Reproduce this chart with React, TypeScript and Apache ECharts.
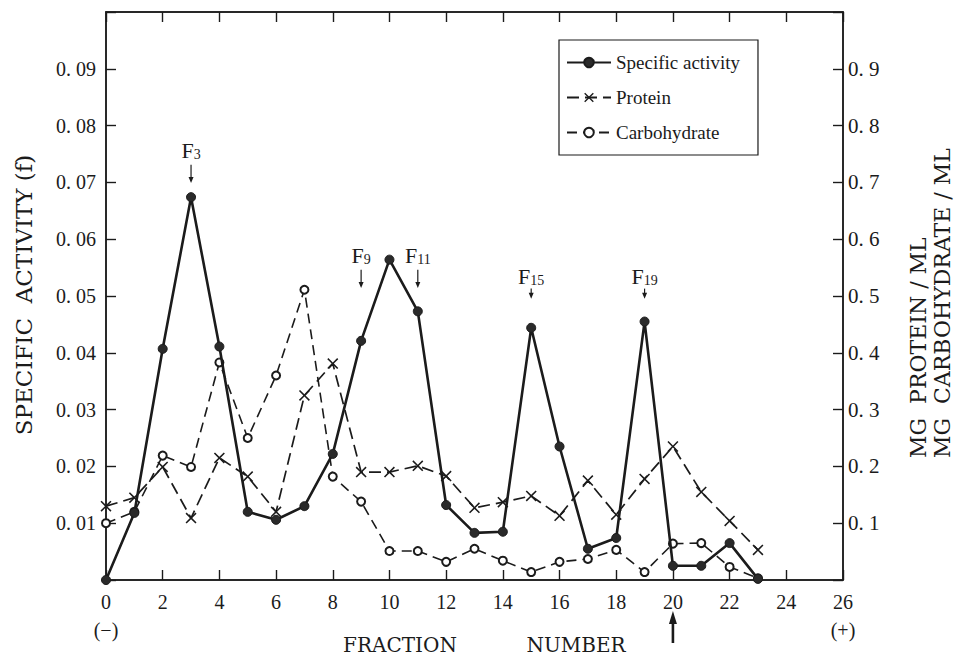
import React, { useEffect, useRef } from "react";
import * as echarts from "echarts";

const FONT = '"Liberation Serif", "Times New Roman", serif';
const TITLE_FONT = '"DejaVu Serif", "Liberation Serif", serif';
const INK = "#1b1b1b";

// ---- data ----
const fractions = [0, 1, 2, 3, 4, 5, 6, 7, 8, 9, 10, 11, 12, 13, 14, 15, 16, 17, 18, 19, 20, 21, 22, 23];
const specificActivity = [0, 0.0118, 0.0407, 0.0674, 0.0411, 0.012, 0.0106, 0.013, 0.0222, 0.0421, 0.0564, 0.0473, 0.0132, 0.0083, 0.0085, 0.0444, 0.0235, 0.0055, 0.0074, 0.0455, 0.0025, 0.0025, 0.0065, 0.0002];
const protein = [0.13, 0.145, 0.199, 0.109, 0.215, 0.182, 0.12, 0.325, 0.381, 0.19, 0.19, 0.201, 0.183, 0.127, 0.137, 0.148, 0.113, 0.175, 0.115, 0.178, 0.235, 0.155, 0.104, 0.053];
const carbohydrate = [0.1, 0.12, 0.219, 0.199, 0.383, 0.25, 0.36, 0.511, 0.182, 0.138, 0.051, 0.051, 0.032, 0.055, 0.034, 0.014, 0.032, 0.037, 0.053, 0.014, 0.064, 0.065, 0.023, 0.003];

const xTickLabels = ["0\n(−)", "2", "4", "6", "8", "10", "12", "14", "16", "18", "20", "22", "24", "26\n(+)"];
const leftTickLabels = ["", "0. 01", "0. 02", "0. 03", "0. 04", "0. 05", "0. 06", "0. 07", "0. 08", "0. 09", ""];
const rightTickLabels = ["", "0. 1", "0. 2", "0. 3", "0. 4", "0. 5", "0. 6", "0. 7", "0. 8", "0. 9", ""];

// peak annotations (fraction, subscript, label level, arrow top, arrow tip) in left-axis units
const annoFractions = [3, 9, 11, 15, 19];
const annoSubs = ["3", "9", "11", "15", "19"];
const annoLabelLevel = [0.0757, 0.0572, 0.0572, 0.0535, 0.0535];
const annoArrowTop = [0.0731, 0.0546, 0.0546, 0.0513, 0.0513];
const annoArrowTip = [0.0699, 0.0514, 0.0514, 0.0495, 0.0495];
const markerFraction = 20;

const crossPath = "path://M0,1 L1,0 L5,4 L9,0 L10,1 L6,5 L10,9 L9,10 L5,6 L1,10 L0,9 L4,5 Z";

export default function App() {
  const ref = useRef<HTMLDivElement>(null);
  useEffect(() => {
    if (!ref.current) return;
    const chart = echarts.init(ref.current, null, { renderer: "svg" });
    const pair = (ys: number[]) => fractions.map((x, i) => [x, ys[i]]);
    const axisLine = () => ({ show: true, onZero: false, lineStyle: { color: INK, width: 1.5 } });
    const axisTick = () => ({ show: true, inside: true, length: 10, lineStyle: { color: INK, width: 1.4 } });
    chart.setOption({
      animation: false,
      backgroundColor: "#ffffff",
      textStyle: { fontFamily: FONT, color: INK },
      grid: { left: 106, right: 113, top: 12, bottom: 76, show: true, borderColor: INK, borderWidth: 1.5, backgroundColor: "transparent" },
      legend: {
        orient: "vertical",
        left: 559,
        top: 40,
        padding: [13, 18, 13, 7],
        itemGap: 16,
        itemWidth: 44,
        itemHeight: 12,
        borderColor: INK,
        borderWidth: 1.2,
        textStyle: { fontFamily: FONT, fontSize: 19, color: INK },
        data: ["Specific activity", "Protein", "Carbohydrate"],
      },
      xAxis: [
        {
          type: "value",
          position: "bottom",
          min: 0,
          max: 26,
          interval: 2,
          axisLine: axisLine(),
          axisTick: axisTick(),
          splitLine: { show: false },
          axisLabel: {
            margin: 8,
            fontSize: 20,
            lineHeight: 28,
            fontFamily: FONT,
            color: INK,
            formatter: (v: number) => xTickLabels[Math.round(v / 2)] ?? "",
          },
        },
        {
          type: "value",
          position: "top",
          min: 0,
          max: 26,
          interval: 2,
          axisLine: axisLine(),
          axisTick: axisTick(),
          splitLine: { show: false },
          axisLabel: { show: false },
        },
      ],
      yAxis: [
        {
          type: "value",
          position: "left",
          min: 0,
          max: 0.1,
          interval: 0.01,
          axisLine: axisLine(),
          axisTick: axisTick(),
          splitLine: { show: false },
          axisLabel: {
            margin: 10,
            fontSize: 20,
            fontFamily: FONT,
            color: INK,
            formatter: (v: number) => leftTickLabels[Math.round(v / 0.01)] ?? "",
          },
        },
        {
          type: "value",
          position: "right",
          min: 0,
          max: 1,
          interval: 0.1,
          axisLine: axisLine(),
          axisTick: axisTick(),
          splitLine: { show: false },
          axisLabel: {
            margin: 5,
            fontSize: 21,
            fontFamily: FONT,
            color: INK,
            formatter: (v: number) => rightTickLabels[Math.round(v / 0.1)] ?? "",
          },
        },
      ],
      series: [
        {
          name: "Protein",
          type: "line",
          xAxisIndex: 1,
          yAxisIndex: 1,
          data: pair(protein),
          symbol: crossPath,
          symbolSize: 11,
          itemStyle: { color: INK },
          lineStyle: { color: INK, width: 1.7, type: [12, 6] },
          z: 2,
        },
        {
          name: "Carbohydrate",
          type: "line",
          xAxisIndex: 1,
          yAxisIndex: 1,
          data: pair(carbohydrate),
          symbol: "emptyCircle",
          symbolSize: 8,
          itemStyle: { color: INK, borderWidth: 1.1 },
          lineStyle: { color: INK, width: 1.6, type: [10, 6] },
          z: 3,
        },
        {
          name: "Specific activity",
          type: "line",
          xAxisIndex: 0,
          yAxisIndex: 0,
          data: pair(specificActivity),
          symbol: "circle",
          symbolSize: 9,
          itemStyle: { color: "#2a2a2a", borderColor: INK, borderWidth: 1 },
          lineStyle: { color: INK, width: 2.6 },
          z: 4,
        },
      ],
    });

    const toPx = (x: number, y: number) =>
      chart.convertToPixel({ xAxisIndex: 0, yAxisIndex: 0 }, [x, y]) as number[];

    const graphics: any[] = [];
    annoFractions.forEach((f, i) => {
      const [px, ly] = toPx(f, annoLabelLevel[i]);
      const ty = toPx(f, annoArrowTop[i])[1];
      const tip = toPx(f, annoArrowTip[i])[1];
      graphics.push({
        type: "text",
        x: px,
        y: ly,
        z: 10,
        style: {
          text: `{f|F}{s|${annoSubs[i]}}`,
          align: "center",
          verticalAlign: "middle",
          rich: {
            f: { fontFamily: FONT, fontSize: 22, fill: INK, verticalAlign: "bottom", lineHeight: 22 },
            s: { fontFamily: FONT, fontSize: 14, fill: INK, verticalAlign: "bottom", lineHeight: 16 },
          },
        },
      });
      graphics.push({
        type: "line",
        z: 10,
        shape: { x1: px, y1: ty, x2: px, y2: tip - 3 },
        style: { stroke: INK, lineWidth: 1.2 },
      });
      graphics.push({
        type: "polygon",
        z: 10,
        shape: { points: [[px - 2.5, tip - 6], [px + 2.5, tip - 6], [px, tip]] },
        style: { fill: INK },
      });
    });

    const [mx, baseY] = toPx(markerFraction, 0);
    graphics.push({
      type: "polygon",
      z: 10,
      shape: { points: [[mx - 4, baseY + 44], [mx + 4, baseY + 44], [mx, baseY + 31]] },
      style: { fill: INK },
    });
    graphics.push({
      type: "rect",
      z: 10,
      shape: { x: mx - 1.3, y: baseY + 42, width: 2.6, height: 21 },
      style: { fill: INK },
    });

    // axis titles
    graphics.push({
      type: "text",
      x: 24,
      y: 295,
      rotation: Math.PI / 2,
      style: { text: "SPECIFIC  ACTIVITY (f)", fontFamily: TITLE_FONT, fontSize: 23, fill: INK, align: "center", verticalAlign: "middle" },
    });
    graphics.push({
      type: "text",
      x: 918,
      y: 458,
      rotation: Math.PI / 2,
      style: { text: "MG  PROTEIN / ML", fontFamily: TITLE_FONT, fontSize: 22, fill: INK, align: "left", verticalAlign: "middle" },
    });
    graphics.push({
      type: "text",
      x: 942,
      y: 458,
      rotation: Math.PI / 2,
      style: { text: "MG  CARBOHYDRATE / ML", fontFamily: TITLE_FONT, fontSize: 22, fill: INK, align: "left", verticalAlign: "middle" },
    });
    graphics.push({
      type: "text",
      x: 400,
      y: 645,
      style: { text: "FRACTION", fontFamily: TITLE_FONT, fontSize: 20, fill: INK, align: "center", verticalAlign: "middle" },
    });
    graphics.push({
      type: "text",
      x: 576,
      y: 645,
      style: { text: "NUMBER", fontFamily: TITLE_FONT, fontSize: 20, fill: INK, align: "center", verticalAlign: "middle" },
    });

    chart.setOption({ graphic: graphics });
    return () => chart.dispose();
  }, []);
  return <div ref={ref} style={{ position: "fixed", left: 0, top: 0, width: 956, height: 656, background: "#fff" }} />;
}
